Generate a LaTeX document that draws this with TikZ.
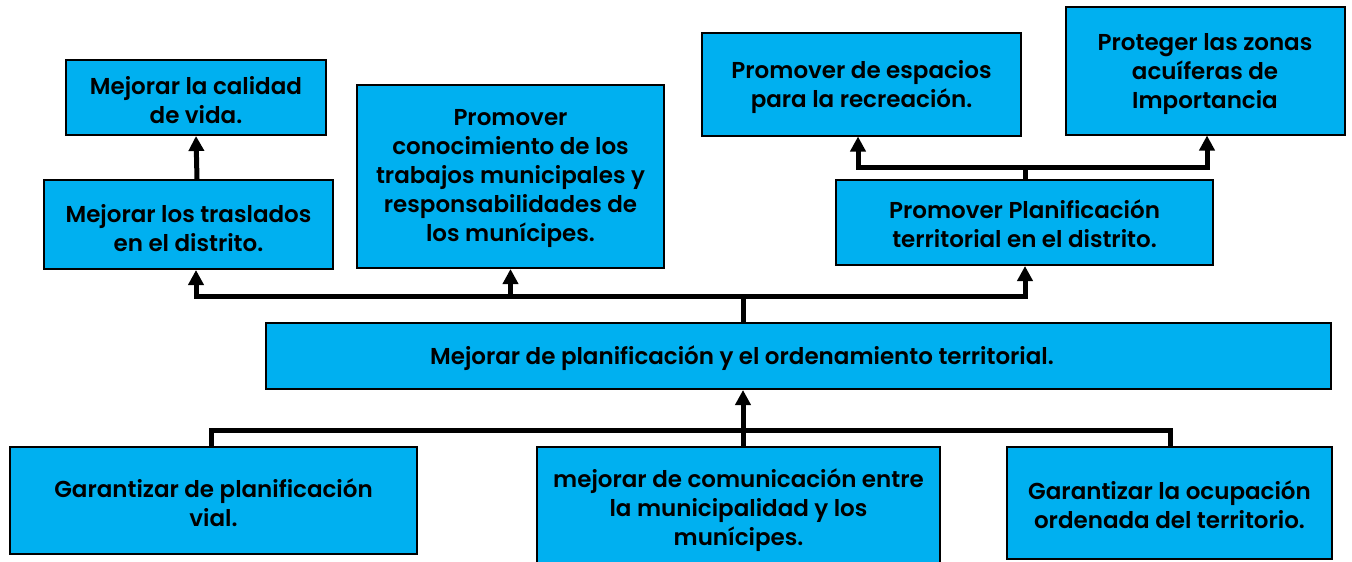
\documentclass[tikz,border=0pt]{standalone}
\usepackage{fontspec}
\setmainfont{Poppins}
\newfontfamily\boxfont{Poppins}[UprightFont=* SemiBold]
\usetikzlibrary{arrows.meta}
\definecolor{boxblue}{HTML}{00B0F0}
\begin{document}
\begin{tikzpicture}[x=1pt,y=-1pt,
  box/.style={draw=black,line width=2pt,fill=boxblue,inner sep=0pt},
  txt/.style={inner sep=0pt,align=center,font=\fontsize{23}{29}\boxfont},
  conn/.style={line width=5pt,line join=miter},
  arr/.style={conn,-{Triangle[length=15pt,width=15pt]}}]
\useasboundingbox (0,0) rectangle (1352,562);
% boxes
\node[box,minimum width=260,minimum height=75] (b1) at (196,97.5) {};
\node[box,minimum width=289,minimum height=89] (b2) at (188.5,224.5) {};
\node[box,minimum width=307,minimum height=183] (b3) at (510.5,176.5) {};
\node[box,minimum width=319,minimum height=103] (b4) at (861.5,84) {};
\node[box,minimum width=279,minimum height=128] (b5) at (1205,70.5) {};
\node[box,minimum width=377,minimum height=85] (b6) at (1024.5,222.5) {};
\node[box,minimum width=1065,minimum height=66] (c) at (798.5,356) {};
\node[box,minimum width=407,minimum height=107] (b8) at (213.5,500.5) {};
\node[box,minimum width=403,minimum height=130] (b9) at (738.5,512) {};
\node[box,minimum width=325,minimum height=112] (b10) at (1169.5,503) {};
% texts
\node[txt] (t1) at (196,100) {Mejorar la calidad\\de vida.};
\node[txt] (t2) at (188.5,228) {Mejorar los traslados\\en el distrito.};
\node[txt] (t3) at (510.5,179) {Promover\\conocimiento de los\\trabajos municipales y\\responsabilidades de\\los munícipes.};
\node[txt] (t4) at (861.5,87.5) {Promover de espacios\\para la recreación.};
\node[txt] (t5) at (1205,74) {Proteger las zonas\\acuíferas de\\Importancia};
\node[txt] (t6) at (1024.5,223.5) {Promover Planificación\\territorial en el distrito.};
\node[txt] (ct) at (742,358.5) {Mejorar de planificación y el ordenamiento territorial.};
\node[txt] (t8) at (213.5,503) {Garantizar de planificación\\vial.};
\node[txt] (t9) at (738.5,510.5) {mejorar de comunicación entre\\la municipalidad y los\\munícipes.};
\node[txt] (t10) at (1169.5,505) {Garantizar la ocupación\\ordenada del territorio.};
% junction coordinates
\coordinate (x196) at (196,0);
\coordinate (x197) at (197,0);
\coordinate (x211) at (211,0);
\coordinate (x743) at (743,0);
\coordinate (x858) at (858,0);
\coordinate (x1025) at (1025,0);
\coordinate (x1207) at (1207,0);
\coordinate (x1170) at (1170,0);
\coordinate (topbus) at (743,296);
\coordinate (rbus) at (1025,167);
\coordinate (botbus) at (743,430);
% connectors
\draw[arr] (b2.north -| x197) -- (b1.south);
\draw[conn] (c.north -| x743) -- (topbus);
\draw[arr] (topbus) -| (b2.south -| x196);
\draw[arr] (topbus) -| (b3.south);
\draw[arr] (topbus) -| (b6.south -| x1025);
\draw[conn] (b6.north -| x1025) -- (rbus);
\draw[arr] (rbus) -| (b4.south -| x858);
\draw[arr] (rbus) -| (b5.south -| x1207);
\draw[conn] (b8.north -| x211) |- (botbus);
\draw[conn] (b10.north -| x1170) |- (botbus);
\draw[arr] (b9.north -| x743) -- (c.south -| x743);
\end{tikzpicture}
\end{document}
